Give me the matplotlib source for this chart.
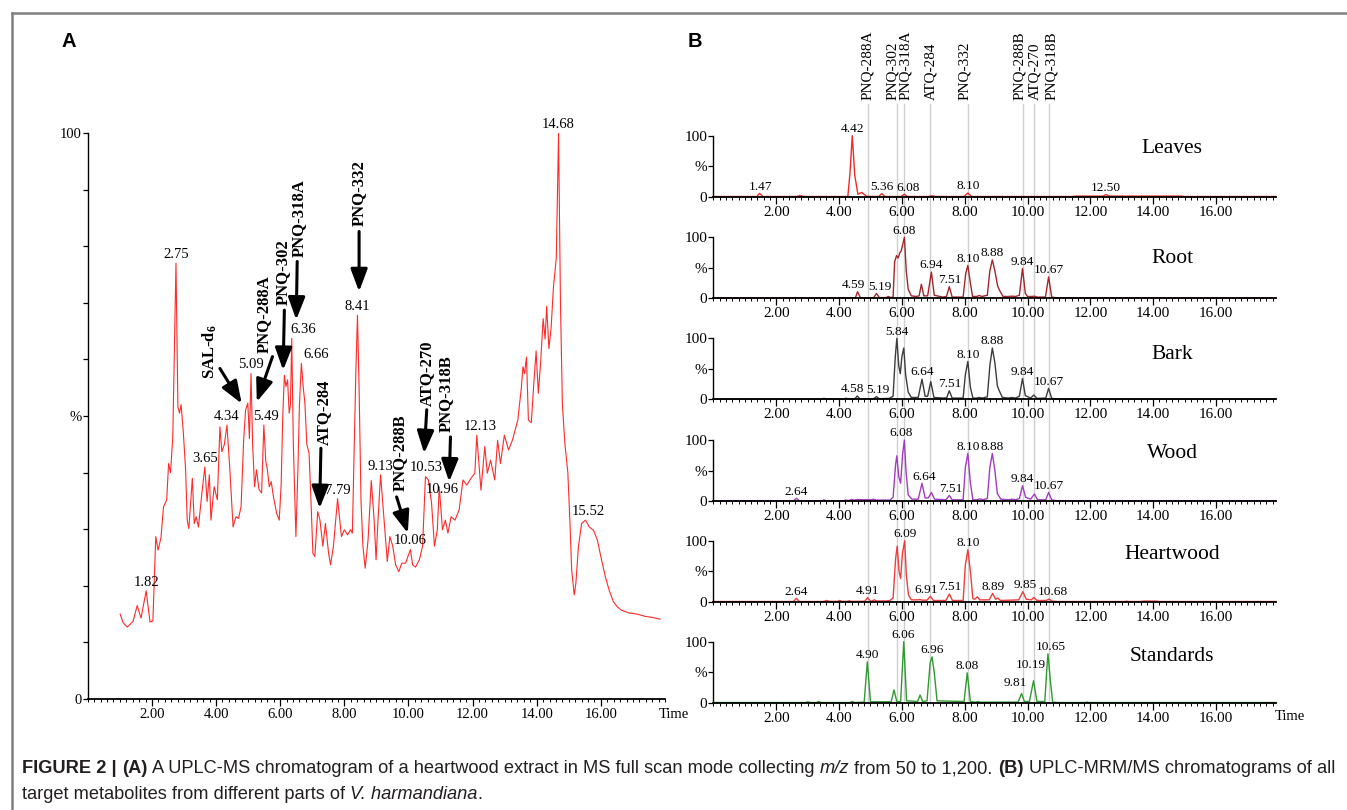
import numpy as np
import matplotlib.pyplot as plt
import matplotlib.transforms as mtransforms
from matplotlib import font_manager
from matplotlib.lines import Line2D
from matplotlib.ticker import FixedLocator, MultipleLocator

# ---------------- data ----------------
# Panel A: full-scan chromatogram of heartwood extract (time, %)
trace_a = [
    (1.01, 15.0), (1.10, 13.5), (1.23, 12.7), (1.41, 13.7), (1.54, 16.5), (1.66, 14.3),
    (1.82, 19.1), (1.94, 13.6), (2.03, 13.8), (2.12, 28.7), (2.19, 26.3), (2.28, 28.4),
    (2.36, 33.9), (2.46, 35.2), (2.52, 41.6), (2.58, 40.0), (2.65, 46.3), (2.75, 77.0),
    (2.81, 51.6), (2.86, 50.5), (2.91, 52.0), (2.98, 47.0), (3.05, 40.5), (3.10, 31.6),
    (3.15, 30.1), (3.26, 39.0), (3.32, 31.0), (3.38, 32.2), (3.45, 30.4), (3.57, 37.0),
    (3.65, 41.0), (3.72, 34.9), (3.79, 39.6), (3.84, 31.6), (3.94, 37.5), (4.04, 35.2),
    (4.12, 48.1), (4.18, 43.7), (4.26, 45.0), (4.34, 48.4), (4.43, 40.5), (4.53, 30.4),
    (4.62, 32.2), (4.70, 31.9), (4.78, 34.0), (4.86, 45.7), (4.92, 51.0), (4.99, 52.3),
    (5.04, 46.0), (5.09, 57.5), (5.14, 45.0), (5.20, 37.5), (5.26, 40.5), (5.34, 37.0),
    (5.42, 36.4), (5.49, 48.4), (5.55, 42.0), (5.60, 40.5), (5.66, 37.5), (5.72, 38.4),
    (5.79, 35.7), (5.89, 32.8), (5.97, 31.6), (6.03, 37.9), (6.08, 50.0), (6.13, 57.2),
    (6.18, 55.2), (6.23, 56.4), (6.28, 50.5), (6.32, 52.0), (6.36, 63.7), (6.41, 45.0),
    (6.49, 28.7), (6.55, 40.0), (6.60, 52.0), (6.66, 59.3), (6.72, 55.0), (6.77, 52.3),
    (6.83, 45.0), (6.90, 43.4), (6.96, 35.0), (7.02, 25.7), (7.08, 25.2), (7.17, 33.1),
    (7.24, 31.6), (7.33, 27.0), (7.41, 31.0), (7.51, 25.7), (7.57, 23.7), (7.66, 27.0),
    (7.79, 35.4), (7.91, 28.7), (8.00, 29.9), (8.10, 29.0), (8.19, 29.9), (8.25, 29.3),
    (8.31, 45.0), (8.36, 58.0), (8.41, 67.8), (8.46, 55.0), (8.52, 35.0), (8.58, 27.0),
    (8.65, 23.1), (8.74, 28.1), (8.84, 38.6), (8.93, 31.6), (8.99, 24.6), (9.05, 31.6),
    (9.13, 39.6), (9.24, 31.6), (9.34, 24.3), (9.42, 28.7), (9.51, 27.0), (9.60, 23.7),
    (9.70, 22.5), (9.79, 24.0), (9.91, 24.0), (10.06, 26.4), (10.13, 23.7), (10.22, 23.3),
    (10.34, 24.6), (10.44, 27.0), (10.53, 39.3), (10.62, 38.7), (10.72, 34.6), (10.81, 27.0),
    (10.90, 29.9), (10.96, 37.5), (11.06, 29.9), (11.15, 31.6), (11.23, 29.3), (11.33, 32.2),
    (11.45, 31.6), (11.58, 33.4), (11.70, 38.7), (11.82, 37.8), (11.95, 39.0), (12.07, 39.9),
    (12.13, 46.6), (12.26, 36.9), (12.38, 44.6), (12.46, 39.9), (12.56, 42.2), (12.69, 38.7),
    (12.78, 45.7), (12.87, 41.6), (12.99, 46.6), (13.12, 44.0), (13.24, 45.7), (13.41, 49.3),
    (13.52, 55.0), (13.57, 58.7), (13.62, 57.5), (13.68, 60.4), (13.74, 49.3), (13.83, 48.8),
    (13.90, 55.0), (13.98, 61.5), (14.05, 54.0), (14.12, 59.3), (14.20, 67.2), (14.26, 63.6),
    (14.31, 69.4), (14.38, 61.9), (14.45, 65.7), (14.52, 72.7), (14.61, 77.9), (14.68, 100.0),
    (14.74, 70.0), (14.80, 52.0), (14.88, 45.0), (14.97, 40.0), (15.03, 32.0), (15.09, 22.8),
    (15.17, 18.4), (15.22, 20.4), (15.30, 26.9), (15.40, 31.0), (15.52, 31.6), (15.64, 30.4),
    (15.77, 29.8), (15.89, 28.1), (16.02, 24.6), (16.14, 21.6), (16.26, 19.2), (16.39, 17.2),
    (16.51, 16.3), (16.64, 15.7), (16.88, 15.2), (17.13, 15.0), (17.38, 14.6), (17.62, 14.4),
    (17.85, 14.1),
]
peaks_a = ['1.82', '2.75', '3.65', '4.34', '5.09', '5.49', '6.36', '6.66', '7.79', '8.41',
           '9.13', '10.06', '10.53', '10.96', '12.13', '14.68', '15.52']

# Panel B: MRM chromatograms (time, %)
leaves = [
    (0.0, 0.3), (1.38, 0.3), (1.47, 5.4), (1.58, 0.3), (2.65, 0.3), (2.75, 2.0), (2.88, 0.3),
    (4.28, 0.3), (4.35, 40), (4.42, 100), (4.50, 35), (4.60, 4), (4.72, 7), (4.88, 0.5),
    (5.26, 0.3), (5.36, 5), (5.46, 0.3), (5.98, 0.3), (6.08, 4), (6.18, 0.3), (6.85, 0.3),
    (6.95, 1.5), (7.08, 0.3), (7.98, 0.3), (8.10, 6), (8.22, 0.3), (11.45, 0.3), (11.5, 1.0),
    (12.40, 1.0), (12.50, 3.5), (12.60, 1.0), (14.9, 1.0), (15.0, 0.3), (17.9, 0.3),
]
root = [
    (0.0, 0.3), (2.50, 0.3), (2.60, 1.2), (2.70, 0.3), (4.30, 0.5), (4.52, 0.8), (4.59, 10.8),
    (4.68, 0.8), (5.10, 0.8), (5.19, 8.0), (5.28, 1.2), (5.50, 1.2), (5.57, 3.0), (5.64, 1.2),
    (5.72, 2.0), (5.77, 60), (5.83, 70), (5.88, 66), (5.93, 74), (5.98, 78), (6.08, 100),
    (6.14, 45), (6.20, 15), (6.30, 4), (6.45, 3), (6.55, 4), (6.62, 23), (6.70, 4), (6.82, 4),
    (6.94, 43), (7.03, 5), (7.30, 2), (7.42, 3), (7.51, 19), (7.60, 2), (7.95, 2), (8.03, 40),
    (8.10, 54), (8.18, 25), (8.25, 3), (8.38, 3), (8.46, 4.5), (8.55, 3), (8.72, 5), (8.80, 45),
    (8.88, 63), (8.96, 45), (9.05, 20), (9.12, 12), (9.22, 3), (9.40, 3), (9.50, 3.5),
    (9.62, 3), (9.74, 5), (9.84, 49), (9.93, 8), (10.00, 3), (10.15, 3), (10.22, 3.5),
    (10.30, 2), (10.57, 2), (10.67, 35), (10.77, 2), (10.95, 0.6), (13.6, 0.6), (13.7, 1.0),
    (14.2, 1.0), (14.3, 0.3), (17.9, 0.3),
]
bark = [
    (0.0, 0.3), (3.45, 0.3), (3.52, 1.5), (3.60, 0.3), (4.15, 0.5), (4.22, 1.8), (4.30, 0.5),
    (4.50, 0.6), (4.58, 5.5), (4.66, 0.8), (5.10, 0.8), (5.19, 4.4), (5.28, 1.0), (5.60, 1.5),
    (5.72, 5), (5.79, 70), (5.84, 100), (5.90, 55), (5.95, 42), (6.00, 70), (6.06, 84),
    (6.12, 40), (6.20, 12), (6.30, 3), (6.52, 3), (6.64, 33), (6.74, 5), (6.82, 5), (6.92, 29),
    (7.02, 3), (7.35, 2), (7.43, 3), (7.51, 14), (7.60, 2), (7.95, 2), (8.02, 40), (8.10, 62),
    (8.18, 20), (8.26, 2), (8.38, 2), (8.46, 3), (8.56, 2), (8.72, 4), (8.80, 55), (8.88, 84),
    (8.96, 60), (9.04, 22), (9.10, 14), (9.20, 3), (9.40, 2), (9.50, 3), (9.62, 2), (9.74, 5),
    (9.84, 34), (9.93, 6), (10.10, 2), (10.20, 7), (10.30, 1.5), (10.58, 2), (10.67, 18),
    (10.77, 1.5), (10.95, 0.3), (17.9, 0.3),
]
wood = [
    (0.0, 0.3), (2.55, 0.3), (2.64, 4.4), (2.74, 0.3), (3.45, 0.3), (3.52, 1.8), (3.60, 0.3),
    (4.15, 0.5), (4.22, 1.5), (4.30, 0.5), (4.40, 2.5), (4.48, 1.5), (4.60, 2.5), (4.75, 2.2),
    (5.00, 2.0), (5.10, 2.8), (5.20, 1.5), (5.62, 1.5), (5.72, 6), (5.80, 60), (5.84, 74),
    (5.90, 40), (5.96, 29), (6.02, 75), (6.08, 100), (6.13, 50), (6.20, 10), (6.32, 3),
    (6.52, 3), (6.64, 29), (6.74, 5), (6.84, 5), (6.94, 14), (7.04, 3), (7.40, 2), (7.51, 9),
    (7.60, 2), (7.95, 2), (8.02, 55), (8.10, 78), (8.18, 30), (8.26, 2), (8.40, 2), (8.48, 3.5),
    (8.58, 2), (8.72, 4), (8.80, 55), (8.88, 78), (8.96, 50), (9.04, 12), (9.15, 3), (9.40, 2),
    (9.50, 3), (9.62, 2), (9.74, 4), (9.84, 25), (9.94, 6), (10.10, 3), (10.22, 11.5),
    (10.32, 2), (10.58, 2), (10.67, 14), (10.77, 2), (10.95, 0.3), (17.9, 0.3),
]
heartwood = [
    (0.0, 0.3), (2.55, 0.3), (2.64, 5.5), (2.74, 0.3), (3.50, 0.3), (3.60, 2.0), (3.70, 0.5),
    (3.95, 0.5), (4.02, 2.0), (4.10, 0.5), (4.25, 0.5), (4.32, 1.5), (4.40, 0.5), (4.82, 0.8),
    (4.91, 6.6), (5.00, 1.0), (5.05, 1.2), (5.12, 3), (5.20, 1.2), (5.50, 1.2), (5.62, 2.0),
    (5.72, 6), (5.80, 70), (5.85, 91), (5.91, 50), (5.96, 38), (6.02, 80), (6.09, 100),
    (6.14, 45), (6.21, 11), (6.30, 3), (6.50, 3), (6.58, 3.5), (6.65, 2.5), (6.80, 2.5),
    (6.91, 9), (7.00, 2), (7.40, 2), (7.51, 12.6), (7.61, 2), (7.95, 2), (8.02, 60), (8.10, 85),
    (8.18, 50), (8.26, 5), (8.32, 4), (8.40, 8), (8.48, 3), (8.78, 3), (8.89, 13.7), (8.98, 4),
    (9.05, 6), (9.14, 2), (9.72, 3), (9.85, 16.4), (9.96, 4), (10.12, 3), (10.20, 7),
    (10.30, 2), (10.60, 2), (10.68, 4.4), (10.78, 1.0), (10.95, 0.3), (13.10, 0.3),
    (13.15, 1.0), (13.20, 0.3), (13.60, 0.3), (13.70, 1.0), (14.10, 1.0), (14.20, 0.3),
    (17.9, 0.3),
]
standards = [
    (0.0, 0.3), (2.95, 0.3), (3.00, 1.5), (3.08, 0.3), (3.28, 0.3), (3.35, 2.0), (3.42, 0.3),
    (4.35, 0.3), (4.42, 2.0), (4.50, 0.3), (4.80, 1.0), (4.90, 67), (5.00, 1.5), (5.66, 1.5),
    (5.75, 21), (5.84, 1.5), (5.96, 2), (6.06, 100), (6.15, 3), (6.50, 2), (6.58, 12.6),
    (6.66, 2), (6.80, 3), (6.90, 65), (6.96, 75), (7.03, 50), (7.12, 3), (7.98, 2), (8.08, 49),
    (8.18, 2), (8.35, 0.8), (8.42, 2.0), (8.50, 0.8), (9.70, 1), (9.81, 15), (9.90, 2),
    (10.06, 2), (10.19, 36), (10.30, 2), (10.55, 2), (10.62, 60), (10.65, 80), (10.72, 40),
    (10.80, 1), (10.95, 0.3), (11.85, 0.3), (11.90, 1.0), (11.95, 0.3), (17.9, 0.3),
]

panel_names = ['Leaves', 'Root', 'Bark', 'Wood', 'Heartwood', 'Standards']
panel_traces = [leaves, root, bark, wood, heartwood, standards]
panel_colors = ['#ee2a2a', '#a3262c', '#3c3c3c', '#a23cc0', '#f03c3c', '#2f9a2f']
panel_peaks = [
    ['1.47', '4.42', '5.36', '6.08', '8.10', '12.50'],
    ['4.59', '5.19', '6.08', '6.94', '7.51', '8.10', '8.88', '9.84', '10.67'],
    ['4.58', '5.19', '5.84', '6.64', '7.51', '8.10', '8.88', '9.84', '10.67'],
    ['2.64', '6.08', '6.64', '7.51', '8.10', '8.88', '9.84', '10.67'],
    ['2.64', '4.91', '6.09', '6.91', '7.51', '8.10', '8.89', '9.85', '10.68'],
    ['4.90', '6.06', '6.96', '8.08', '9.81', '10.19', '10.65'],
]

# target compounds and their retention times (guide lines in panel B)
compounds = ['PNQ-288A', 'PNQ-302', 'PNQ-318A', 'ATQ-284', 'PNQ-332', 'PNQ-288B', 'ATQ-270', 'PNQ-318B']
compound_rt = [4.91, 5.85, 6.08, 6.91, 8.10, 9.85, 10.22, 10.68]

# ---------------- fonts ----------------
W, H = 1347, 810
SERIF = 'Liberation Serif'
plt.rcParams['mathtext.fontset'] = 'custom'
plt.rcParams['mathtext.rm'] = 'Liberation Serif'
plt.rcParams['mathtext.bf'] = 'Liberation Serif:bold'
plt.rcParams['mathtext.default'] = 'bf'

names = {f.name for f in font_manager.fontManager.ttflist}
CAP_FONT = 'Liberation Sans Narrow' if 'Liberation Sans Narrow' in names else 'Liberation Sans'

fig = plt.figure(figsize=(W / 100, H / 100), dpi=100)


def px_axes(left, top, right, bottom):
    ax = fig.add_axes([left / W, 1 - bottom / H, (right - left) / W, (bottom - top) / H])
    ax.set_facecolor('none')
    return ax


def style_axes(ax, xmax, ymajor, ylabels, fs):
    ax.set_xlim(0, xmax)
    ax.set_ylim(0, 100)
    for s in ['top', 'right']:
        ax.spines[s].set_visible(False)
    ax.spines['left'].set_linewidth(1.0)
    ax.spines['bottom'].set_linewidth(1.3)
    ax.xaxis.set_major_locator(FixedLocator([2, 4, 6, 8, 10, 12, 14, 16]))
    ax.xaxis.set_major_formatter(lambda v, p: f'{v:.2f}')
    ax.xaxis.set_minor_locator(MultipleLocator(0.2))
    ax.yaxis.set_major_locator(FixedLocator(ymajor))
    ax.yaxis.set_major_formatter(lambda v, p: ylabels.get(int(round(v)), ''))
    ax.tick_params(axis='x', which='major', direction='out', length=5, width=0.9, pad=1.5,
                   labelsize=fs)
    ax.tick_params(axis='x', which='minor', direction='out', length=2.5, width=0.7)
    ax.tick_params(axis='y', which='major', direction='out', length=3.5, width=0.9, pad=1,
                   labelsize=fs)
    for lab in ax.get_xticklabels() + ax.get_yticklabels():
        lab.set_fontfamily(SERIF)


def peak_top(tr, rt, win=0.1):
    t = np.array([p[0] for p in tr])
    v = np.array([p[1] for p in tr])
    m = np.abs(t - rt) <= win
    i = np.argmax(np.where(m, v, -1))
    return v[i]


# ---------------- panel A ----------------
ax_a = px_axes(87.8, 133, 665, 699)
style_axes(ax_a, 18.0, list(range(0, 101, 10)), {0: '0', 50: '%', 100: '100'}, 10.5)
ax_a.plot([p[0] for p in trace_a], [p[1] for p in trace_a], color='#ff2a2a', lw=0.8)

a_label_adj = {'6.36': ('left', -0.05, 1.5), '6.66': ('left', 0.05, 1.5),
               '5.49': ('center', 0.08, 1.5), '12.13': ('center', 0.12, 1.5),
               '15.52': ('center', 0.08, 1.5), '10.96': ('center', 0.1, -7),
               '10.53': ('center', 0.02, 2)}
for lab in peaks_a:
    rt = float(lab)
    h = peak_top(trace_a, rt, 0.06)
    ha, dx, dy = a_label_adj.get(lab, ('center', 0.0, 1.5))
    ax_a.annotate(lab, xy=(rt + dx, h), xytext=(0, dy), textcoords='offset points',
                  ha=ha, va='bottom', fontsize=10.5, family=SERIF, annotation_clip=False)

# arrow annotations: (text, text centre, arrow tail, arrow tip)
a_arrows = [
    ('SAL-d$_6$', (3.82, 61.4), (4.12, 58.4), (4.80, 52.2)),
    ('PNQ-288A', (5.48, 67.9), (5.76, 60.5), (5.27, 52.5)),
    ('PNQ-302', (6.09, 75.5), (6.13, 68.7), (6.09, 58.1)),
    ('PNQ-318A', (6.59, 84.9), (6.53, 77.3), (6.50, 67.0)),
    ('PNQ-332', (8.46, 89.3), (8.46, 82.6), (8.46, 72.0)),
    ('ATQ-284', (7.36, 50.7), (7.27, 44.3), (7.23, 33.7)),
    ('PNQ-288B', (9.73, 43.6), (9.63, 35.7), (9.98, 29.3)),
    ('ATQ-270', (10.57, 57.5), (10.57, 51.1), (10.49, 43.4)),
    ('PNQ-318B', (11.18, 53.9), (11.31, 46.3), (11.27, 38.4)),
]
for txt, tpos, tail, tip in a_arrows:
    ax_a.text(*tpos, txt, rotation=90, ha='center', va='center', fontsize=12,
              fontweight='bold', family=SERIF)
    ax_a.annotate('', xy=tip, xytext=tail,
                  arrowprops=dict(arrowstyle='-|>,head_length=0.85,head_width=0.32',
                                  lw=2.2, color='black', mutation_scale=16,
                                  shrinkA=0, shrinkB=0))
fig.text(659 / W, 1 - 715 / H, 'Time', ha='left', va='center', fontsize=10.5, family=SERIF)

# ---------------- panel B ----------------
b_zero = [196.7, 298.3, 399.3, 501.0, 601.7, 702.7]
b_name_y = [0.79, 0.66, 0.73, 0.78, 0.78, 0.75]
b_label_dx = {('Leaves', '6.08'): 0.13, ('Leaves', '1.47'): 0.02,
              ('Root', '4.59'): -0.12, ('Root', '5.19'): 0.1,
              ('Bark', '4.58'): -0.15, ('Bark', '5.19'): 0.05,
              ('Wood', '6.08'): -0.1, ('Wood', '6.64'): 0.07, ('Wood', '7.51'): 0.05,
              ('Heartwood', '6.91'): -0.14, ('Heartwood', '7.51'): 0.03,
              ('Heartwood', '9.85'): 0.07,
              ('Heartwood', '10.68'): 0.12, ('Standards', '6.06'): -0.03,
              ('Standards', '9.81'): -0.2, ('Standards', '10.19'): -0.07,
              ('Standards', '10.65'): 0.08}
b_label_dy = {('Standards', '9.81'): 3, ('Standards', '10.19'): 7}

axes_b = []
for name, tr, col, pk, y0, ny in zip(panel_names, panel_traces, panel_colors, panel_peaks,
                                     b_zero, b_name_y):
    ax = px_axes(713.4, y0 - 61, 1275.7, y0)
    style_axes(ax, 17.9, [0, 50, 100], {0: '0', 50: '%', 100: '100'}, 11)
    ax.plot([p[0] for p in tr], [p[1] for p in tr], color=col, lw=1.0, clip_on=False)
    for lab in pk:
        rt = float(lab)
        h = peak_top(tr, rt, 0.1)
        dx = b_label_dx.get((name, lab), 0.0)
        dy = b_label_dy.get((name, lab), 0.5)
        ax.annotate(lab, xy=(rt + dx, h), xytext=(0, dy), textcoords='offset points',
                    ha='center', va='bottom', fontsize=9.6, family=SERIF,
                    annotation_clip=False)
    ax.text(0.8156, ny, name, transform=ax.transAxes, ha='center', va='center',
            fontsize=15.5, family=SERIF)
    axes_b.append(ax)

fig.text(1275 / W, 1 - 716 / H, 'Time', ha='left', va='center', fontsize=10.5, family=SERIF)

# guide lines for the target compounds
trans = mtransforms.blended_transform_factory(axes_b[0].transData, fig.transFigure)
name_dx = [0.0, -0.16, 0.05, 0.0, -0.1, -0.11, 0.0, 0.08]
for cname, rt, dx in zip(compounds, compound_rt, name_dx):
    fig.add_artist(Line2D([rt, rt], [1 - 104 / H, 1 - 702.7 / H], transform=trans,
                          color='#d0d0d0', lw=1.0, zorder=-1))
    fig.text(rt + dx, 1 - 100 / H, cname, transform=trans, rotation=90, ha='center',
             va='bottom', fontsize=11, family=SERIF)

# ---------------- panel letters, frame, caption ----------------
fig.text(62 / W, 1 - 47 / H, 'A', fontsize=14.5, fontweight='bold', family='Liberation Sans',
         va='baseline')
fig.text(688 / W, 1 - 47 / H, 'B', fontsize=14.5, fontweight='bold', family='Liberation Sans',
         va='baseline')
fig.add_artist(Line2D([12 / W, 1], [1 - 13 / H, 1 - 13 / H], transform=fig.transFigure,
                      color='#808080', lw=1.8))
fig.add_artist(Line2D([12 / W, 12 / W], [0, 1 - 13 / H], transform=fig.transFigure,
                      color='#808080', lw=1.8))

cap1 = [('FIGURE 2 |', 'bold', 'normal', False), ('(A)', 'bold', 'normal', True),
        ('A UPLC-MS chromatogram of a heartwood extract in MS full scan mode collecting',
         'normal', 'normal', True),
        ('m/z', 'normal', 'italic', True), ('from 50 to 1,200.', 'normal', 'normal', True),
        ('(B)', 'bold', 'normal', True),
        ('UPLC-MRM/MS chromatograms of all', 'normal', 'normal', True)]
cap2 = [('target metabolites from different parts of', 'normal', 'normal', False),
        ('V. harmandiana', 'normal', 'italic', True), ('.', 'normal', 'normal', False)]

renderer = fig.canvas.get_renderer()


def text_w(s, size, weight='normal', style='normal'):
    t = fig.text(0, 0, s, fontsize=size, family=CAP_FONT, fontweight=weight, fontstyle=style)
    w = t.get_window_extent(renderer).width
    t.remove()
    return w


def caption_line(x, y, pieces, size, draw=True):
    gap = text_w('x x', size) - text_w('xx', size)
    cur = x
    for s, wt, st, sp in pieces:
        if sp:
            cur += gap
        if draw:
            fig.text(cur / W, 1 - y / H, s, fontsize=size, family=CAP_FONT, fontweight=wt,
                     fontstyle=st, va='baseline', ha='left', color='#231f20')
        cur += text_w(s, size, wt, st)
    return cur - x


base = 12.0
wid = caption_line(22, 773, cap1, base, draw=False)
size = base * (1318 / wid)
caption_line(22, 773, cap1, size)
caption_line(22, 799, cap2, size)

fig.savefig('out.png', dpi=100)
